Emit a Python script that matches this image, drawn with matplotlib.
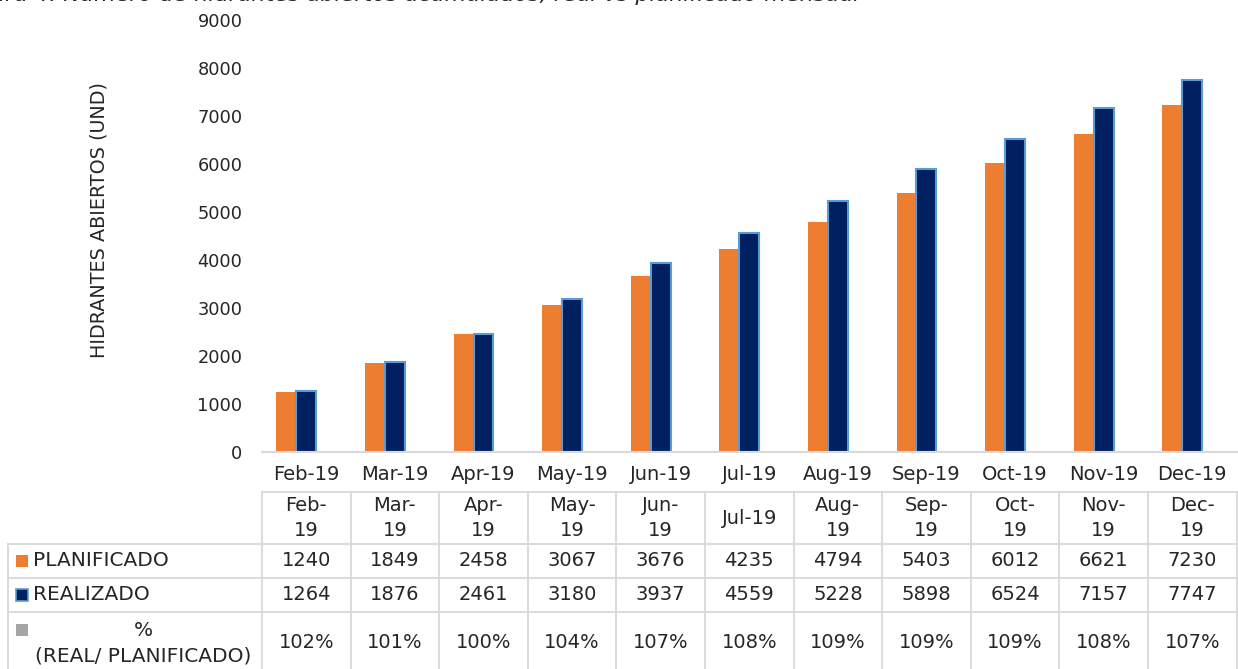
import matplotlib
matplotlib.use("Agg")
import matplotlib.pyplot as plt
from matplotlib.patches import Rectangle
from matplotlib.transforms import blended_transform_factory
import numpy as np

months = ["Feb-19", "Mar-19", "Apr-19", "May-19", "Jun-19", "Jul-19",
          "Aug-19", "Sep-19", "Oct-19", "Nov-19", "Dec-19"]
table_headers = ["Feb-\n19", "Mar-\n19", "Apr-\n19", "May-\n19", "Jun-\n19", "Jul-19",
                 "Aug-\n19", "Sep-\n19", "Oct-\n19", "Nov-\n19", "Dec-\n19"]
planificado = [1240, 1849, 2458, 3067, 3676, 4235, 4794, 5403, 6012, 6621, 7230]
realizado = [1264, 1876, 2461, 3180, 3937, 4559, 5228, 5898, 6524, 7157, 7747]
porcentaje = [102, 101, 100, 104, 107, 108, 109, 109, 109, 108, 107]
yticks = [0, 1000, 2000, 3000, 4000, 5000, 6000, 7000, 8000, 9000]
row_labels = ["PLANIFICADO", "REALIZADO", "%\n(REAL/ PLANIFICADO)"]
title_text = "Figura 4. Número de hidrantes abiertos acumulados, real vs planificado mensual"

ORANGE = "#ED7D31"
NAVY = "#002060"
EDGE = "#5B9BD5"
GRAY = "#A5A5A5"
GRID = "#D9D9D9"
TXT = "#262626"

plt.rcParams['font.family'] = ['DejaVu Sans']

W, H = 1238, 669
fig = plt.figure(figsize=(W / 100, H / 100), dpi=100)

def fx(px):
    return px / W

def fy(py):
    return 1 - py / H

ax_left, ax_right, ax_top, ax_bot = 262, 1236.5, 20, 452
ax = fig.add_axes([fx(ax_left), fy(ax_bot), fx(ax_right - ax_left), (ax_bot - ax_top) / H])

x = np.arange(len(months))
bw = 0.225
ax.bar(x - bw, planificado, bw, color=ORANGE, zorder=2)
ax.bar(x, realizado, bw, color=NAVY, edgecolor=EDGE, linewidth=1.5, zorder=2)
ax.bar(x + bw, [p / 100 for p in porcentaje], bw, color=GRAY, zorder=2)

ax.set_xlim(-0.5, len(months) - 0.5)
ax.set_ylim(0, 9000)
ax.set_yticks(yticks)
ax.set_yticklabels([str(v) for v in yticks], fontsize=12.8, color=TXT)
ax.set_xticks(x)
ax.set_xticklabels(months, fontsize=14, color=TXT)
ax.tick_params(axis='y', length=0, pad=14)
ax.tick_params(axis='x', length=0, pad=9)
for s in ["top", "right", "left"]:
    ax.spines[s].set_visible(False)
ax.spines["bottom"].set_color(GRID)
ax.spines["bottom"].set_linewidth(1.5)

# y label
fig.text(fx(99), fy(220), "HIDRANTES ABIERTOS (UND)", rotation=90, ha="center", va="center",
         fontsize=13.8, color=TXT)

# title, cut off by the top edge as in the reference
fig.text(fx(-42), fy(5), title_text, ha="left", va="bottom", fontsize=16,
         style="italic", color=TXT)

# data table
tr = blended_transform_factory(ax.transData, fig.transFigure)
lw = 1.3
y_head_top, y_r1, y_r2, y_r3, y_bottom = 492, 544, 578, 612, 669
n = len(months)
fig.add_artist(plt.Line2D([-0.5, n - 0.5], [fy(y_head_top)] * 2, transform=tr, color=GRID, lw=lw))
for yy in [y_r1, y_r2, y_r3]:
    fig.add_artist(plt.Line2D([fx(8), fx(ax_right)], [fy(yy)] * 2, transform=fig.transFigure,
                              color=GRID, lw=lw))
for i in range(n + 1):
    fig.add_artist(plt.Line2D([i - 0.5, i - 0.5], [fy(y_head_top), fy(y_bottom)], transform=tr,
                              color=GRID, lw=lw))
fig.add_artist(plt.Line2D([fx(8), fx(8)], [fy(y_r1), fy(y_bottom)], transform=fig.transFigure,
                          color=GRID, lw=lw))

row_centers = [(y_r1 + y_r2) / 2, (y_r2 + y_r3) / 2, 642]
for i in range(n):
    fig.text(i, fy(518), table_headers[i], transform=tr, ha="center",
             va="center", fontsize=14, color=TXT, linespacing=1.45)
    fig.text(i, fy(row_centers[0]), str(planificado[i]), transform=tr, ha="center", va="center",
             fontsize=14, color=TXT)
    fig.text(i, fy(row_centers[1]), str(realizado[i]), transform=tr, ha="center", va="center",
             fontsize=14, color=TXT)
    fig.text(i, fy(row_centers[2]), f"{porcentaje[i]}%", transform=tr, ha="center", va="center",
             fontsize=14, color=TXT)

# row labels with legend keys
key = 12
fig.add_artist(Rectangle((fx(16), fy(row_centers[0] + key / 2)), fx(key), key / H,
                         transform=fig.transFigure, facecolor=ORANGE, edgecolor="none"))
fig.add_artist(Rectangle((fx(16), fy(row_centers[1] + key / 2)), fx(key), key / H,
                         transform=fig.transFigure, facecolor=NAVY, edgecolor=EDGE, lw=1.2))
fig.add_artist(Rectangle((fx(16), fy(636)), fx(key), key / H,
                         transform=fig.transFigure, facecolor=GRAY, edgecolor="none"))
fig.text(fx(33), fy(row_centers[0]), row_labels[0], ha="left", va="center", fontsize=14.5, color=TXT)
fig.text(fx(33), fy(row_centers[1]), row_labels[1], ha="left", va="center", fontsize=14.5, color=TXT)
fig.text(fx(143), fy(643), row_labels[2], ha="center", va="center", fontsize=14.5, color=TXT,
         multialignment="center", linespacing=1.45)

fig.savefig("out.png", dpi=100)
